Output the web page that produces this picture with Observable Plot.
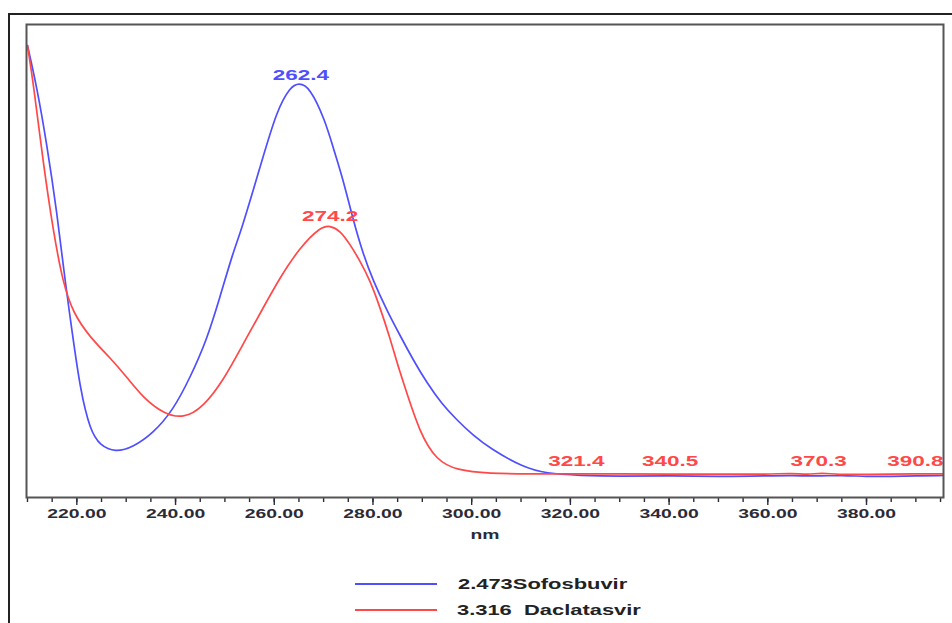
<!DOCTYPE html>
<html>
<head>
<meta charset="utf-8">
<script src="https://cdn.jsdelivr.net/npm/d3@7"></script>
<script src="https://cdn.jsdelivr.net/npm/@observablehq/plot@0.6"></script>
<style>
html, body { margin: 0; padding: 0; background: #fff; width: 952px; height: 623px; overflow: hidden;
  font-family: "Liberation Sans", Arial, sans-serif; }
#outer { position: absolute; left: 8px; top: 13px; width: 980px; height: 660px; border: 2px solid #222; box-sizing: border-box; }
#chart { position: absolute; left: 0; top: 0; }
.legline { position: absolute; height: 2px; }
.legtext { position: absolute; font-size: 15px; line-height: 18px; color: #222; white-space: pre; font-weight: bold;
  transform: scaleX(1.46); transform-origin: left center; }
</style>
</head>
<body>
<div id="outer"></div>
<div id="chart"></div>
<div id="legend"></div>
<script>
// ---- data ----
const sofosbuvirNm = [210, 211.9, 213.9, 216.0, 217.6, 219.0, 220.7, 222.7, 224.7, 227.8, 231.4, 235.4, 239.5, 243.0, 246.3, 249.0, 251.7, 253.3, 257.1, 260.5, 263.2, 265.0, 267.2, 270.3, 271.9, 274.0, 276.0, 278.0, 280.0, 282.8, 285.4, 288.1, 290.9, 293.9, 296.9, 300.3, 303.7, 310.3, 315.1, 321.9, 330, 340, 350, 360, 365, 370, 375, 380, 385, 390, 395.5];
const sofosbuvirAbs = [1.075, 0.971, 0.830, 0.655, 0.488, 0.363, 0.213, 0.113, 0.075, 0.058, 0.071, 0.105, 0.163, 0.246, 0.338, 0.446, 0.560, 0.612, 0.770, 0.913, 0.971, 0.982, 0.971, 0.888, 0.821, 0.738, 0.638, 0.554, 0.488, 0.413, 0.352, 0.290, 0.232, 0.180, 0.140, 0.100, 0.068, 0.021, 0.005, 0.000, -0.002, 0.000, -0.003, -0.001, 0.000, -0.002, 0.001, -0.003, -0.002, -0.001, 0.000];

const daclatasvirNm = [210, 211.2, 213.2, 215.2, 217.2, 219.3, 222.7, 226.7, 230.2, 233.4, 237.5, 241.6, 245.6, 249.7, 253.7, 257.8, 261.2, 265.2, 269.3, 271.3, 273.3, 275.3, 277.3, 279.4, 281.4, 283.4, 284.8, 286.1, 289.5, 292.9, 296.9, 303.7, 311.8, 318.4, 330, 340, 350, 360, 365, 368, 371, 374, 380, 390, 395.5];
const daclatasvirAbs = [1.075, 0.980, 0.780, 0.613, 0.480, 0.405, 0.345, 0.295, 0.245, 0.195, 0.155, 0.142, 0.171, 0.238, 0.329, 0.420, 0.496, 0.570, 0.621, 0.625, 0.613, 0.579, 0.538, 0.488, 0.421, 0.346, 0.285, 0.235, 0.105, 0.038, 0.013, 0.005, 0.004, 0.004, 0.004, 0.003, 0.004, 0.003, 0.006, 0.002, 0.007, 0.002, 0.003, 0.004, 0.004];

const peakText = ["262.4", "274.2", "321.4", "340.5", "370.3", "390.8"];
const peakNm = [265.4, 271.3, 321.2, 340.2, 370.3, 389.9];
const peakAbs = [1.001, 0.648, 0.035, 0.035, 0.035, 0.035];
const peakSeries = ["Sofosbuvir", "Daclatasvir", "Daclatasvir", "Daclatasvir", "Daclatasvir", "Daclatasvir"];

const majorTicks = [220, 240, 260, 280, 300, 320, 340, 360, 380];
const minorTicks = d3.range(210, 396, 5);

const seriesNames = ["Sofosbuvir", "Daclatasvir"];
const legendLabels = ["2.473Sofosbuvir", "3.316  Daclatasvir"];
const seriesColors = ["#4f4fff", "#ff4848"];

// ---- tables ----
const sof = sofosbuvirNm.map((nm, i) => ({nm, a: sofosbuvirAbs[i]}));
const dac = daclatasvirNm.map((nm, i) => ({nm, a: daclatasvirAbs[i]}));
const peaks = peakText.map((t, i) => ({t, nm: peakNm[i], a: peakAbs[i], s: peakSeries[i]}));
const colorOf = s => seriesColors[seriesNames.indexOf(s)];

const chart = Plot.plot({
  width: 952,
  height: 548,
  marginTop: 24,
  marginLeft: 26,
  marginRight: 9,
  marginBottom: 51,
  style: {fontFamily: '"Liberation Sans", Arial, sans-serif', color: "#2b2b38", background: "transparent"},
  x: {domain: [209.8, 395.6], label: null},
  y: {domain: [-0.055, 1.1275], axis: null},
  marks: [
    Plot.axisX(minorTicks, {tickSize: 5, tickFormat: () => "", strokeWidth: 1.4, label: null}),
    Plot.axisX(majorTicks, {tickSize: 8, tickPadding: 4, strokeWidth: 1.4, fontSize: 12.5, fontWeight: "bold",
      tickFormat: d3.format(".2f"), label: "nm", labelAnchor: "center", labelArrow: "none", labelOffset: 41}),
    Plot.line(sof, {x: "nm", y: "a", stroke: seriesColors[0], strokeWidth: 1.7, curve: "basis", clip: true}),
    Plot.line(dac, {x: "nm", y: "a", stroke: seriesColors[1], strokeWidth: 1.7, curve: "basis", clip: true}),
    Plot.text(peaks, {x: "nm", y: "a", text: "t", fill: d => colorOf(d.s), fontSize: 14.5, fontWeight: "bold",
      textAnchor: "middle", lineAnchor: "middle"}),
    Plot.frame({stroke: "#555", strokeWidth: 2})
  ]
});

// stretch the text horizontally like the reference picture
const S = 1.55;
chart.querySelectorAll("text").forEach(t => {
  const tr = t.getAttribute("transform") || "";
  const x = +t.getAttribute("x") || 0;
  t.setAttribute("transform", `${tr} translate(${x},0) scale(${S},1) translate(${-x},0)`);
});
document.getElementById("chart").appendChild(chart);

// legend below the plot
const leg = document.getElementById("legend");
const legY = [584, 610];
seriesNames.forEach((s, i) => {
  const line = document.createElement("div");
  line.className = "legline";
  line.style.left = "355px";
  line.style.width = "82px";
  line.style.top = (legY[i] - 1) + "px";
  line.style.background = seriesColors[i];
  leg.appendChild(line);
  const txt = document.createElement("div");
  txt.className = "legtext";
  txt.style.left = (i === 0 ? 458 : 457) + "px";
  txt.style.top = (legY[i] - 9) + "px";
  txt.textContent = legendLabels[i];
  leg.appendChild(txt);
});
</script>
</body>
</html>
